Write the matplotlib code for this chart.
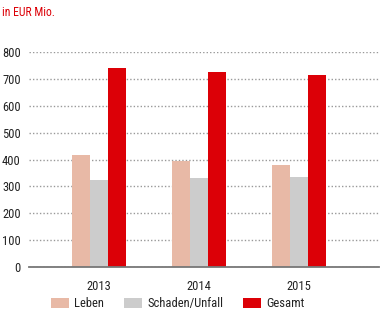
import numpy as np
import matplotlib.pyplot as plt

plt.rcParams['font.family'] = ['Roboto Condensed', 'Liberation Sans', 'DejaVu Sans']

# Daten (in EUR Mio.)
jahre = ['2013', '2014', '2015']
leben = [416, 395, 379]
schaden = [323, 331, 335]
gesamt = [742, 724, 713]

serien = ['Leben', 'Schaden/Unfall', 'Gesamt']
farben = ['#E8B9A6', '#CCCCCC', '#DC0007']

fig = plt.figure(figsize=(3.81, 3.30), dpi=100)
ax = fig.add_axes([0.0761, 0.1909, 0.9187, 0.6515])

x = np.arange(len(jahre))
w = 0.18
for i, (werte, name, farbe) in enumerate(zip([leben, schaden, gesamt], serien, farben)):
    ax.bar(x + (i - 1) * w, werte, width=w, color=farbe, label=name, zorder=3)

ax.set_xlim(-0.7, 2.8)
ax.set_ylim(0, 800)
ax.set_yticks(np.arange(0, 801, 100))
ax.set_xticks(x)
ax.set_xticklabels(jahre)

# gepunktete Gitterlinien
ax.grid(axis='y', linestyle=(0, (1, 1.5)), color='#999999', linewidth=1, zorder=1)
for s in ['top', 'right', 'left']:
    ax.spines[s].set_visible(False)
ax.spines['bottom'].set_color('#777777')
ax.spines['bottom'].set_linewidth(1.3)
ax.spines['bottom'].set_zorder(4)

ax.tick_params(axis='both', length=0, labelsize=9, colors='#222222')
ax.tick_params(axis='y', pad=6)
ax.tick_params(axis='x', pad=9)

fig.text(0.005, 0.962, 'in EUR Mio.', color='#DC0007', fontsize=8.5, va='center', ha='left')

fig.legend(loc='center left', bbox_to_anchor=(0.134, 0.08), ncol=3, frameon=False,
           fontsize=9, handlelength=1.45, handleheight=0.8, handletextpad=0.4,
           columnspacing=1.6, labelcolor='#222222', borderaxespad=0, borderpad=0)

plt.savefig('out.png', dpi=100)
